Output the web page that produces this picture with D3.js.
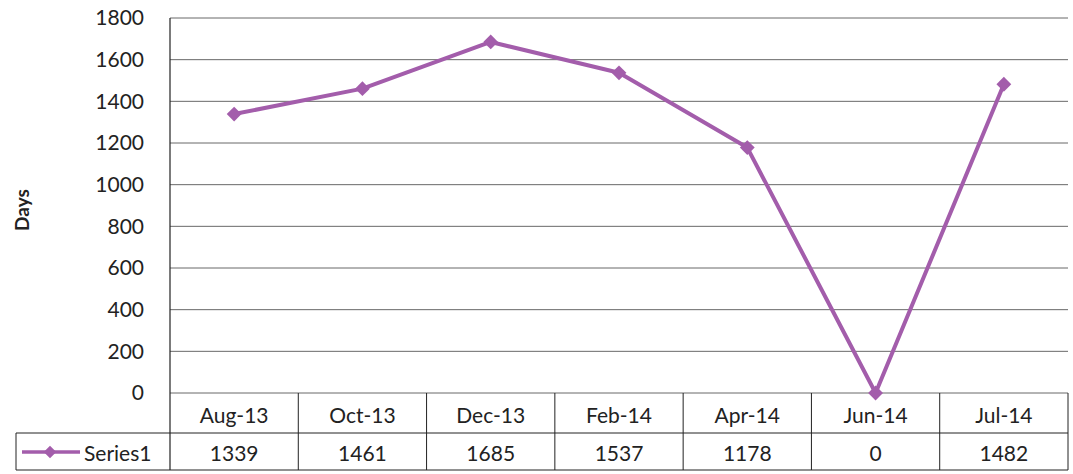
<!DOCTYPE html>
<html><head><meta charset="utf-8">
<script src="https://cdn.jsdelivr.net/npm/d3@7"></script>
<style>body{margin:0;background:#fff}svg{display:block}text{font-family:Lato,"Open Sans",sans-serif;fill:#222}</style>
</head><body><svg id="c" width="1073" height="474"></svg>
<script>
const categories = ["Aug-13","Oct-13","Dec-13","Feb-14","Apr-14","Jun-14","Jul-14"];
const values = [1339,1461,1685,1537,1178,0,1482];
const yTicks = [0,200,400,600,800,1000,1200,1400,1600,1800];
const seriesName = "Series1";
const yTitle = "Days";

const svg = d3.select("#c");
const L = 170, R = 1068, T = 18, B = 393;
const row1 = 433, row2 = 470, legL = 16;
const color = "#a35dab";
const FS = 21;

const x = d3.scaleBand().domain(categories).range([L, R]);
const y = d3.scaleLinear().domain([0, 1800]).range([B, T]);

// gridlines
svg.append("g").selectAll("line").data(yTicks).join("line")
  .attr("x1", L).attr("x2", R).attr("y1", d => y(d)).attr("y2", d => y(d))
  .attr("stroke", "#444").attr("stroke-width", 1).attr("opacity", 0.8);

// y axis
const ya = svg.append("g").attr("transform", `translate(${L},0)`)
  .call(d3.axisLeft(y).tickValues(yTicks).tickFormat(d3.format("d")).tickSize(0).tickPadding(26));
ya.select(".domain").remove();
ya.attr("font-size", FS).attr("font-family", "Lato,'Open Sans',sans-serif");
ya.selectAll("text").attr("fill", "#222");
svg.append("line").attr("x1", L).attr("x2", L).attr("y1", T).attr("y2", row2).attr("stroke", "#222").attr("stroke-width", 1.2);

svg.append("text").attr("transform", `translate(29,210) rotate(-90)`)
  .attr("text-anchor", "middle").attr("font-size", 19).attr("font-weight", "bold").text(yTitle);

// data table
const tg = svg.append("g");
tg.selectAll("line.v").data(categories).join("line")
  .attr("x1", d => x(d) + x.bandwidth()).attr("x2", d => x(d) + x.bandwidth())
  .attr("y1", B).attr("y2", row2).attr("stroke", "#222").attr("stroke-width", 1);
tg.append("line").attr("x1", legL).attr("x2", R).attr("y1", row1).attr("y2", row1).attr("stroke", "#222");
tg.append("line").attr("x1", legL).attr("x2", R).attr("y1", row2).attr("y2", row2).attr("stroke", "#222");
tg.append("line").attr("x1", legL).attr("x2", legL).attr("y1", row1).attr("y2", row2).attr("stroke", "#222");
tg.selectAll("text.cat").data(categories).join("text")
  .attr("x", d => x(d) + x.bandwidth()/2).attr("y", 423)
  .attr("text-anchor", "middle").attr("font-size", FS).text(d => d);
tg.selectAll("text.val").data(values).join("text")
  .attr("x", (d,i) => x(categories[i]) + x.bandwidth()/2).attr("y", 461)
  .attr("text-anchor", "middle").attr("font-size", FS).text(d => d);
// legend key
const ly = 452;
tg.append("line").attr("x1", 22).attr("x2", 80).attr("y1", ly).attr("y2", ly)
  .attr("stroke", color).attr("stroke-width", 3.5);
tg.append("path").attr("d", d3.symbol(d3.symbolDiamond2, 100)())
  .attr("transform", `translate(50,${ly})`).attr("fill", color);
tg.append("text").attr("x", 84).attr("y", 461).attr("font-size", FS).text(seriesName);

// line + markers
const line = d3.line().x((d,i) => x(categories[i]) + x.bandwidth()/2).y(d => y(d));
svg.append("path").datum(values).attr("d", line).attr("fill", "none")
  .attr("stroke", color).attr("stroke-width", 4).attr("stroke-linejoin", "round");
svg.selectAll("path.m").data(values).join("path")
  .attr("d", d3.symbol(d3.symbolDiamond2, 140)())
  .attr("transform", (d,i) => `translate(${x(categories[i]) + x.bandwidth()/2},${y(d)})`)
  .attr("fill", color);
</script></body></html>
